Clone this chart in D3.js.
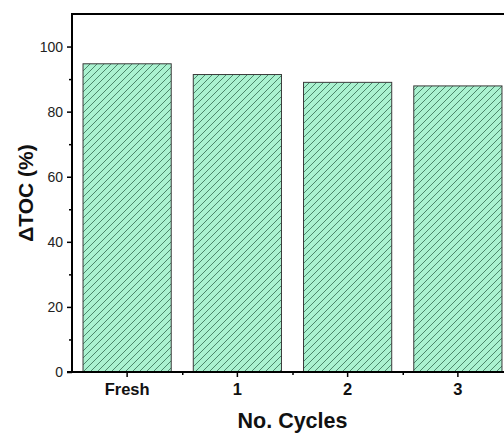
<!DOCTYPE html>
<html>
<head>
<meta charset="utf-8">
<script src="https://cdn.jsdelivr.net/npm/d3@7"></script>
<style>
  body { margin: 0; background: #fff; }
  svg { display: block; }
</style>
</head>
<body>
<svg id="chart" width="504" height="434"></svg>
<script>
const categories = ["Fresh", "1", "2", "3"];
const values = [94.7, 91.4, 89.0, 87.9];
const yMajor = [0, 20, 40, 60, 80, 100];
const yMinor = [10, 30, 50, 70, 90];

const svg = d3.select("#chart");
const pLeft = 72, pRight = 513, pTop = 14, pBottom = 372;

const x = d3.scaleBand().domain(categories).range([pLeft, pRight])
  .paddingInner(0.2).paddingOuter(0.1);
const y = d3.scaleLinear().domain([0, 110]).range([pBottom, pTop]);

// hatch pattern
const defs = svg.append("defs");
const pat = defs.append("pattern")
  .attr("id", "hatch")
  .attr("patternUnits", "userSpaceOnUse")
  .attr("width", 7).attr("height", 7);
pat.append("rect").attr("width", 7).attr("height", 7).attr("fill", "#aaf2d0");
pat.append("path")
  .attr("d", "M0,7 L7,0 M-1,1 L1,-1 M6,8 L8,6")
  .attr("stroke", "#3b7458").attr("stroke-width", 0.85);

svg.selectAll("rect.bar")
  .data(categories)
  .join("rect")
  .attr("class", "bar")
  .attr("x", d => x(d))
  .attr("width", x.bandwidth())
  .attr("y", (d, i) => y(values[i]))
  .attr("height", (d, i) => y(0) - y(values[i]))
  .attr("fill", "url(#hatch)")
  .attr("stroke", "#3a3a3a")
  .attr("stroke-width", 1);

// frame top line
svg.append("line")
  .attr("x1", pLeft).attr("x2", pRight)
  .attr("y1", pTop).attr("y2", pTop)
  .attr("stroke", "#000").attr("stroke-width", 2);

// y axis
const yAxis = svg.append("g").attr("transform", `translate(${pLeft},0)`);
yAxis.append("g")
  .call(d3.axisLeft(y).tickValues(yMinor).tickSize(3).tickFormat(""))
  .call(g => g.select(".domain").remove())
  .call(g => g.selectAll("line").attr("stroke-width", 1.5));
yAxis.append("g")
  .call(d3.axisLeft(y).tickValues(yMajor).tickSize(5).tickSizeOuter(0).tickPadding(4))
  .call(g => g.select(".domain").attr("stroke-width", 2).attr("d", `M0,${pBottom + 1}V${pTop - 1}`))
  .call(g => g.selectAll("line").attr("stroke-width", 1.5))
  .call(g => g.selectAll("text")
    .attr("font-family", "Arial, 'Liberation Sans', sans-serif")
    .attr("font-size", 14).attr("fill", "#222"));

// x axis
const xAxis = svg.append("g").attr("transform", `translate(0,${pBottom})`);
const minorX = categories.map(d => x(d) + x.bandwidth() / 2 + x.step() / 2);
xAxis.append("g")
  .call(d3.axisBottom(d3.scaleIdentity()).tickValues(minorX).tickSize(3).tickFormat(""))
  .call(g => g.select(".domain").remove())
  .call(g => g.selectAll("line").attr("stroke-width", 1.5));
xAxis.append("g")
  .call(d3.axisBottom(x).tickSize(5).tickSizeOuter(0).tickPadding(6))
  .call(g => g.select(".domain").attr("stroke-width", 2).attr("d", `M${pLeft - 5},0H${pRight}`))
  .call(g => g.selectAll("line").attr("stroke-width", 1.5))
  .call(g => g.selectAll("text")
    .attr("font-family", "Arial, 'Liberation Sans', sans-serif")
    .attr("font-size", 16.5).attr("font-weight", "bold").attr("fill", "#111"));

// axis titles
svg.append("text")
  .attr("x", (pLeft + pRight) / 2).attr("y", 428)
  .attr("text-anchor", "middle")
  .attr("font-family", "Arial, 'Liberation Sans', sans-serif")
  .attr("font-size", 21.5).attr("font-weight", "bold").attr("fill", "#111")
  .text("No. Cycles");

svg.append("text")
  .attr("transform", `translate(33,${(pTop + pBottom) / 2}) rotate(-90)`)
  .attr("text-anchor", "middle")
  .attr("font-family", "Arial, 'Liberation Sans', sans-serif")
  .attr("font-size", 21).attr("font-weight", "bold").attr("fill", "#111")
  .text("ΔTOC (%)");
</script>
</body>
</html>
